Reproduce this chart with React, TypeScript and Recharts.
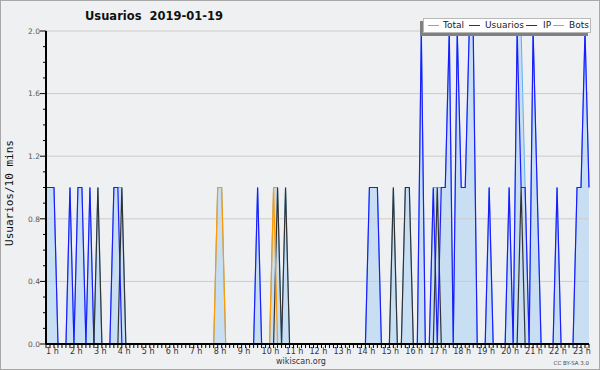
import { ComposedChart, Area, Line, XAxis, YAxis, ReferenceLine } from "recharts";

// one value per 10 minutes, from 1:00 to 23:40
const total = [
  1, 1, 1, 0, 0, 0, 1, 0, 1, 1, 0, 1,
  0, 1, 0, 0, 0, 1, 1, 1, 0, 0, 0, 0,
  0, 0, 0, 0, 0, 0, 0, 0, 0, 0, 0, 0,
  0, 0, 0, 0, 0, 0, 0, 1, 1, 0, 0, 0,
  0, 0, 0, 0, 0, 1, 0, 0, 0, 1, 1, 0,
  1, 0, 0, 0, 0, 0, 0, 0, 0, 0, 0, 0,
  0, 0, 0, 0, 0, 0, 0, 0, 0, 1, 1, 1,
  0, 0, 0, 1, 0, 0, 1, 1, 0, 0, 2, 0,
  0, 1, 1, 1, 1, 2, 0, 2, 1, 1, 2, 2,
  0, 0, 0, 1, 0, 0, 0, 0, 1, 0, 2, 2,
  1, 0, 2, 1, 0, 0, 0, 0, 1, 0, 0, 0,
  0, 1, 1, 2, 1,
];
const usuarios = [
  1, 1, 1, 0, 0, 0, 1, 0, 1, 1, 0, 1,
  0, 0, 0, 0, 0, 1, 1, 0, 0, 0, 0, 0,
  0, 0, 0, 0, 0, 0, 0, 0, 0, 0, 0, 0,
  0, 0, 0, 0, 0, 0, 0, 0, 0, 0, 0, 0,
  0, 0, 0, 0, 0, 1, 0, 0, 0, 0, 0, 0,
  0, 0, 0, 0, 0, 0, 0, 0, 0, 0, 0, 0,
  0, 0, 0, 0, 0, 0, 0, 0, 0, 1, 1, 1,
  0, 0, 0, 0, 0, 0, 0, 0, 0, 0, 2, 0,
  0, 1, 0, 1, 1, 2, 0, 2, 1, 1, 2, 2,
  0, 0, 0, 1, 0, 0, 0, 0, 1, 0, 2, 1,
  1, 0, 2, 1, 0, 0, 0, 0, 1, 0, 0, 0,
  0, 1, 1, 2, 1,
];
const ip = [
  0, 0, 0, 0, 0, 0, 0, 0, 0, 0, 0, 0,
  0, 1, 0, 0, 0, 0, 0, 1, 0, 0, 0, 0,
  0, 0, 0, 0, 0, 0, 0, 0, 0, 0, 0, 0,
  0, 0, 0, 0, 0, 0, 0, 0, 0, 0, 0, 0,
  0, 0, 0, 0, 0, 0, 0, 0, 0, 0, 1, 0,
  1, 0, 0, 0, 0, 0, 0, 0, 0, 0, 0, 0,
  0, 0, 0, 0, 0, 0, 0, 0, 0, 0, 0, 0,
  0, 0, 0, 1, 0, 0, 1, 1, 0, 0, 0, 0,
  0, 0, 1, 0, 0, 0, 0, 0, 0, 0, 0, 0,
  0, 0, 0, 0, 0, 0, 0, 0, 0, 0, 0, 1,
  0, 0, 0, 0, 0, 0, 0, 0, 0, 0, 0, 0,
  0, 0, 0, 0, 0,
];
const bots = [
  0, 0, 0, 0, 0, 0, 0, 0, 0, 0, 0, 0,
  0, 0, 0, 0, 0, 0, 0, 0, 0, 0, 0, 0,
  0, 0, 0, 0, 0, 0, 0, 0, 0, 0, 0, 0,
  0, 0, 0, 0, 0, 0, 0, 1, 1, 0, 0, 0,
  0, 0, 0, 0, 0, 0, 0, 0, 0, 1, 0, 0,
  0, 0, 0, 0, 0, 0, 0, 0, 0, 0, 0, 0,
  0, 0, 0, 0, 0, 0, 0, 0, 0, 0, 0, 0,
  0, 0, 0, 0, 0, 0, 0, 0, 0, 0, 0, 0,
  0, 0, 0, 0, 0, 0, 0, 0, 0, 0, 0, 0,
  0, 0, 0, 0, 0, 0, 0, 0, 0, 0, 0, 0,
  0, 0, 0, 0, 0, 0, 0, 0, 0, 0, 0, 0,
  0, 0, 0, 0, 0,
];

const hourLabels = [
  "1 h", "2 h", "3 h", "4 h", "5 h", "6 h", "7 h", "8 h", "9 h", "10 h", "11 h", "12 h",
  "13 h", "14 h", "15 h", "16 h", "17 h", "18 h", "19 h", "20 h", "21 h", "22 h", "23 h",
];
const yTicks = [
  0, 0.1, 0.2, 0.3, 0.4, 0.5, 0.6, 0.7, 0.8, 0.9, 1.0,
  1.1, 1.2, 1.3, 1.4, 1.5, 1.6, 1.7, 1.8, 1.9, 2.0,
];
const gridValues = [0.4, 0.8, 1.2, 1.6, 2.0];

const data = total.map((t, i) => ({
  slot: i,
  total: t,
  usuarios: usuarios[i],
  ip: ip[i],
  bots: bots[i],
}));
const xTicks = data.map(d => d.slot);

const colors = {
  total: "#5cb2f4",
  fill: "#c8def2",
  usuarios: "#1c1cff",
  ip: "#333333",
  bots: "#ff9a00",
};

function XTick({ x, y, payload }: any) {
  const v = payload.value;
  const label = v % 6 === 0 ? hourLabels[v / 6] : null;
  return (
    <g>
      <line x1={x} y1={y} x2={x} y2={y + 4} stroke="#000" />
      {label && (
        <text x={x} y={y + 9.5} fontSize={8} fill="#333" fontFamily="DejaVu Sans">
          {label}
        </text>
      )}
    </g>
  );
}

function YTick({ x, y, payload }: any) {
  const v = payload.value;
  const major = Math.round(v * 10) % 4 === 0;
  return (
    <g>
      <line x1={x - (major ? 6 : 3)} y1={y} x2={x} y2={y} stroke="#000" />
      {major && (
        <text x={x - 6} y={y + 2.8} textAnchor="end" fontSize={7.5} fill="#555" fontFamily="DejaVu Sans">
          {v.toFixed(1)}
        </text>
      )}
    </g>
  );
}

const legendItems = [
  { name: "Total", color: colors.total, line: 427, text: 442 },
  { name: "Usuarios", color: colors.usuarios, line: 468, text: 484 },
  { name: "IP", color: colors.ip, line: 525, text: 542 },
  { name: "Bots", color: colors.bots, line: 552, text: 568 },
];

export default function App() {
  return (
    <div
      style={{
        position: "absolute",
        left: 0,
        top: 0,
        width: 600,
        height: 370,
        background: "#eff0f1",
        border: "1px solid #a8a8a8",
        boxSizing: "border-box",
        fontFamily: "DejaVu Sans",
      }}
    >
      <div style={{ position: "absolute", left: -1, top: -1 }}>
        <ComposedChart width={600} height={370} data={data} margin={{ top: 31, right: 11, left: 0, bottom: 0 }}>
          {gridValues.map(v => (
            <ReferenceLine key={v} y={v} stroke="#cccccc" strokeWidth={1} />
          ))}
          <Area
            type="linear"
            dataKey="total"
            stroke={colors.total}
            strokeWidth={1}
            fill={colors.fill}
            fillOpacity={1}
            dot={false}
            activeDot={false}
            isAnimationActive={false}
          />
          <Line type="linear" dataKey="usuarios" stroke={colors.usuarios} strokeWidth={1.2} dot={false} activeDot={false} isAnimationActive={false} />
          <Line type="linear" dataKey="ip" stroke={colors.ip} strokeWidth={1.2} dot={false} activeDot={false} isAnimationActive={false} />
          <Line type="linear" dataKey="bots" stroke={colors.bots} strokeWidth={1.2} dot={false} activeDot={false} isAnimationActive={false} />
          <XAxis
            type="number"
            dataKey="slot"
            domain={[0, 136]}
            ticks={xTicks}
            interval={0}
            tick={(p: any) => <XTick {...p} />}
            tickLine={false}
            tickSize={0}
            tickMargin={0}
            axisLine={{ stroke: "#000", strokeWidth: 2 }}
            height={26}
          />
          <YAxis
            type="number"
            domain={[0, 2]}
            ticks={yTicks}
            interval={0}
            tick={(p: any) => <YTick {...p} />}
            tickLine={false}
            tickSize={0}
            tickMargin={0}
            axisLine={{ stroke: "#000", strokeWidth: 2 }}
            width={46}
          />
        </ComposedChart>
      </div>

      <div
        style={{
          position: "absolute",
          left: 84,
          top: 8,
          fontSize: 11.5,
          fontWeight: "bold",
          color: "#111",
          whiteSpace: "pre",
        }}
      >
        {"Usuarios  2019-01-19"}
      </div>

      <div
        style={{
          position: "absolute",
          left: 9 - 80,
          top: 192 - 7,
          width: 160,
          height: 14,
          lineHeight: "14px",
          textAlign: "center",
          transform: "rotate(-90deg)",
          fontFamily: "DejaVu Sans Mono",
          fontSize: 11,
          color: "#111",
          whiteSpace: "pre",
        }}
      >
        Usuarios/10 mins
      </div>

      <div
        style={{
          position: "absolute",
          left: 419,
          top: 20,
          width: 168,
          height: 15,
          background: "#808080",
        }}
      />
      <div
        style={{
          position: "absolute",
          left: 422,
          top: 17,
          width: 168,
          height: 15,
          background: "#fff",
          border: "1px solid #b8b8b8",
          boxSizing: "border-box",
        }}
      >
        {legendItems.map(it => (
          <div key={it.name}>
            <div
              style={{
                position: "absolute",
                left: it.line - 423,
                top: 6,
                width: 11,
                height: 0,
                borderTop: `1.5px solid ${it.color}`,
              }}
            />
            <div
              style={{
                position: "absolute",
                left: it.text - 423,
                top: 0,
                fontSize: 9,
                lineHeight: "13px",
                color: "#222",
                whiteSpace: "pre",
              }}
            >
              {it.name}
            </div>
          </div>
        ))}
      </div>

      <div
        style={{
          position: "absolute",
          left: 200,
          top: 356,
          width: 200,
          textAlign: "center",
          fontSize: 8,
          color: "#333",
        }}
      >
        wikiscan.org
      </div>
      <div
        style={{
          position: "absolute",
          right: 10,
          top: 359,
          fontSize: 5.5,
          color: "#444",
          whiteSpace: "pre",
        }}
      >
        CC BY-SA 3.0
      </div>
    </div>
  );
}
